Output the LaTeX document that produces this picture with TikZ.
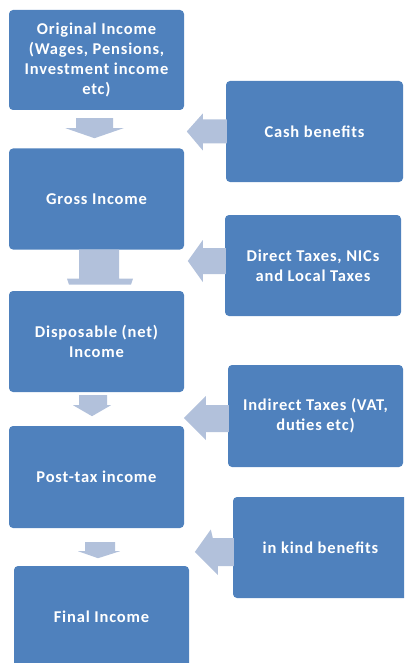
\documentclass[tikz,border=0pt]{standalone}
\usepackage{fontspec}
\setmainfont{Carlito}[LetterSpace=5]
\usetikzlibrary{calc}
\definecolor{boxblue}{HTML}{4F81BD}
\definecolor{arrowblue}{HTML}{B2C1DB}
\tikzset{
  box/.style={fill=boxblue, rounded corners=4pt, text=white, align=center,
    font=\bfseries\fontsize{16.5}{20}\selectfont, inner sep=0pt},
  lbox/.style={box, minimum width=175pt},
  blockarrow/.style={fill=arrowblue}
}
\begin{document}
\begin{tikzpicture}[x=1pt,y=-1pt]
\useasboundingbox (0,0) rectangle (404,663);
\clip (0,0) rectangle (404,663);
% boxes
\node[lbox, minimum height=100pt] (orig) at (96.5,60) {Original Income\\(Wages, Pensions,\\Investment income\\etc)};
\node[lbox, minimum height=101pt] (gross) at (96.5,199) {Gross Income};
\node[lbox, minimum height=101pt] (disp) at (96.5,341.5) {Disposable (net)\\Income};
\node[lbox, minimum height=102pt] (post) at (96.5,477) {Post-tax income};
\node[lbox, minimum height=102pt] (final) at (101.5,617) {Final Income};
\node[box, minimum width=177pt, minimum height=101pt] (cash) at (314.5,131.5) {Cash benefits};
\node[box, minimum width=176pt, minimum height=101pt] (direct) at (313,265.5) {Direct Taxes, NICs\\and Local Taxes};
\node[box, minimum width=175pt, minimum height=102pt] (indirect) at (315.5,416) {Indirect Taxes (VAT,\\duties etc)};
\node[box, minimum width=175pt, minimum height=101pt] (inkind) at (320.5,547.5) {in kind benefits};
% down arrows
\fill[blockarrow] ($(orig.south)+(-20.5,8)$) -- ($(orig.south)+(16.5,8)$) -- ($(orig.south)+(16.5,18)$) -- ($(orig.south)+(27,18)$) -- ($(orig.south)+(-2,28)$) -- ($(orig.south)+(-31,18)$) -- ($(orig.south)+(-20.5,18)$) -- cycle;
\fill[blockarrow] ($(gross.south)+(-17.5,0)$) -- ($(gross.south)+(22.5,0)$) -- ($(gross.south)+(22.5,29)$) -- ($(gross.south)+(36.5,29)$) -- ($(gross.south)+(34.5,35)$) -- ($(gross.south)+(-27.5,35)$) -- ($(gross.south)+(-29.5,29)$) -- ($(gross.south)+(-17.5,29)$) -- cycle;
\fill[blockarrow] ($(disp.south)+(-17.5,3)$) -- ($(disp.south)+(10.5,3)$) -- ($(disp.south)+(10.5,13)$) -- ($(disp.south)+(14.5,13)$) -- ($(disp.south)+(-4.5,24)$) -- ($(disp.south)+(-23.5,13)$) -- ($(disp.south)+(-17.5,13)$) -- cycle;
\fill[blockarrow] ($(post.south)+(-11.5,14)$) -- ($(post.south)+(18.5,14)$) -- ($(post.south)+(18.5,23)$) -- ($(post.south)+(23.5,23)$) -- ($(post.south)+(1.5,30)$) -- ($(post.south)+(-18.5,23)$) -- ($(post.south)+(-11.5,23)$) -- cycle;
% left arrows
\fill[blockarrow] ($(cash.west)+(1,-12)$) -- ($(cash.west)+(-23,-12)$) -- ($(cash.west)+(-23,-18)$) -- ($(cash.west)+(-39,0)$) -- ($(cash.west)+(-23,19)$) -- ($(cash.west)+(-23,12)$) -- ($(cash.west)+(1,12)$) -- cycle;
\fill[blockarrow] ($(direct.west)+(1,-17.5)$) -- ($(direct.west)+(-22,-17.5)$) -- ($(direct.west)+(-22,-25.5)$) -- ($(direct.west)+(-37,-4.5)$) -- ($(direct.west)+(-22,16.5)$) -- ($(direct.west)+(-22,8.5)$) -- ($(direct.west)+(1,8.5)$) -- cycle;
\fill[blockarrow] ($(indirect.west)+(1,-11)$) -- ($(indirect.west)+(-22,-11)$) -- ($(indirect.west)+(-22,-20)$) -- ($(indirect.west)+(-44,2)$) -- ($(indirect.west)+(-22,24)$) -- ($(indirect.west)+(-22,16)$) -- ($(indirect.west)+(1,16)$) -- cycle;
\fill[blockarrow] ($(inkind.west)+(1,-9.5)$) -- ($(inkind.west)+(-20,-9.5)$) -- ($(inkind.west)+(-22,-18)$) -- ($(inkind.west)+(-38,4.5)$) -- ($(inkind.west)+(-15,27.5)$) -- ($(inkind.west)+(-15,18.5)$) -- ($(inkind.west)+(1,18.5)$) -- cycle;
\end{tikzpicture}
\end{document}
